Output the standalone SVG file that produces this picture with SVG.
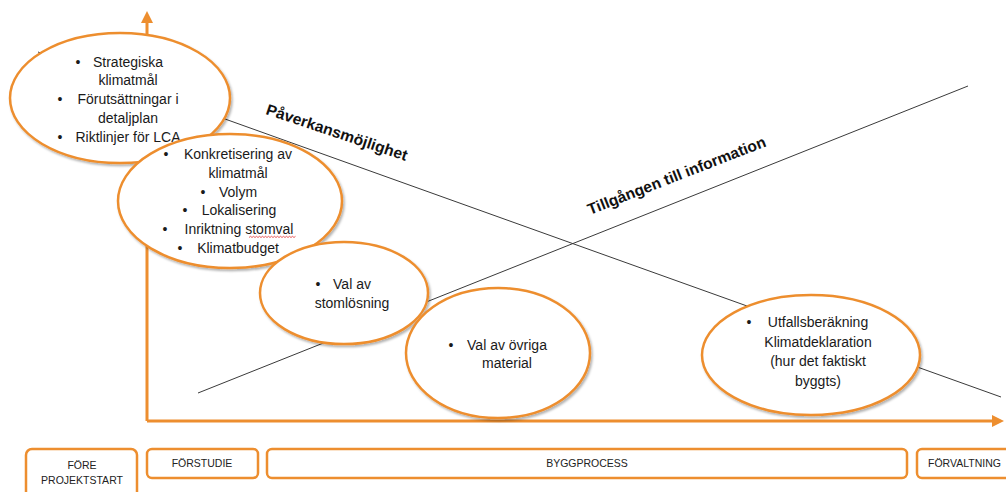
<svg xmlns="http://www.w3.org/2000/svg" width="1006" height="492" viewBox="0 0 1006 492">
<style>
.ax{stroke:#ED8E2F;stroke-width:3;fill:none}
.ln{stroke:#3a3a3a;stroke-width:1;fill:none}
.el{fill:#fff;stroke:#ED8E2F;stroke-width:2.5;filter:url(#sh)}
.bx{fill:#fff;stroke:#ED8E2F;stroke-width:2.5}
.t{font-family:"Liberation Sans",Arial,sans-serif;font-size:14px;fill:#1a1a1a;text-anchor:middle}
.b{font-family:"Liberation Sans",Arial,sans-serif;font-size:14px;fill:#1a1a1a;text-anchor:middle}
.lb{font-family:"Liberation Sans",Arial,sans-serif;font-size:15.5px;font-weight:bold;fill:#111}
.s{font-family:"Liberation Sans",Arial,sans-serif;font-size:10.5px;fill:#222;text-anchor:middle}
</style>
<defs>
<filter id="sh" x="-10%" y="-10%" width="125%" height="130%">
<feDropShadow dx="1.5" dy="2" stdDeviation="1.2" flood-color="#000" flood-opacity="0.3"/>
</filter>
</defs>
<g id="connectors">
<path class="ax" d="M147,421 V20"/>
<polygon points="147,11 141,23 153,23" fill="#ED8E2F"/>
<path class="ax" d="M147,421 H994"/>
<polygon points="1004,421 992,415 992,427" fill="#ED8E2F"/>
<line class="ln" x1="38" y1="52" x2="1001" y2="397"/>
<line class="ln" x1="198" y1="393" x2="968" y2="86"/>
<text class="lb" x="265" y="114" transform="rotate(18.5 265 114)" textLength="148" lengthAdjust="spacingAndGlyphs">Påverkansmöjlighet</text>
<text class="lb" x="590" y="215" transform="rotate(-21.3 590 215)" textLength="190" lengthAdjust="spacingAndGlyphs">Tillgången till information</text>
</g>
<g id="e1">
<ellipse class="el" cx="120" cy="98" rx="110" ry="65"/>
<text class="b" x="78" y="67">•</text>
<text class="t" x="128" y="67">Strategiska</text>
<text class="t" x="128" y="85">klimatmål</text>
<text class="b" x="60" y="104">•</text>
<text class="t" x="128" y="104">Förutsättningar i</text>
<text class="t" x="128" y="123">detaljplan</text>
<text class="b" x="60" y="142">•</text>
<text class="t" x="128" y="142">Riktlinjer för LCA</text>
</g>
<g id="e2">
<ellipse class="el" cx="230" cy="201" rx="112" ry="67"/>
<text class="b" x="166" y="159">•</text>
<text class="t" x="238" y="159">Konkretisering av</text>
<text class="t" x="238" y="178">klimatmål</text>
<text class="b" x="203" y="197">•</text>
<text class="t" x="238" y="197">Volym</text>
<text class="b" x="185" y="215">•</text>
<text class="t" x="239" y="215">Lokalisering</text>
<text class="b" x="165" y="234">•</text>
<text class="t" x="239" y="234">Inriktning stomval</text>
<path d="M249,237.5 l1.5,-1.2 l1.5,1.2 l1.5,-1.2 l1.5,1.2 l1.5,-1.2 l1.5,1.2 l1.5,-1.2 l1.5,1.2 l1.5,-1.2 l1.5,1.2 l1.5,-1.2 l1.5,1.2 l1.5,-1.2 l1.5,1.2 l1.5,-1.2 l1.5,1.2 l1.5,-1.2 l1.5,1.2 l1.5,-1.2 l1.5,1.2 l1.5,-1.2 l1.5,1.2 l1.5,-1.2 l1.5,1.2 l1.5,-1.2 l1.5,1.2 l1.5,-1.2 l1.5,1.2 l1.5,-1.2 l1.5,1.2 l1.5,-1.2" fill="none" stroke="#e03030" stroke-width="0.8"/>
<text class="b" x="180" y="253">•</text>
<text class="t" x="238" y="253">Klimatbudget</text>
</g>
<g id="e3">
<ellipse class="el" cx="344" cy="293" rx="84" ry="51"/>
<text class="b" x="318" y="289">•</text>
<text class="t" x="352" y="289">Val av</text>
<text class="t" x="352" y="308">stomlösning</text>
</g>
<g id="e4">
<ellipse class="el" cx="498" cy="353" rx="92" ry="65"/>
<text class="b" x="451" y="350">•</text>
<text class="t" x="507" y="350">Val av övriga</text>
<text class="t" x="507" y="368">material</text>
</g>
<g id="e5">
<ellipse class="el" cx="811" cy="355" rx="109" ry="60"/>
<text class="b" x="749" y="327">•</text>
<text class="t" x="818" y="327">Utfallsberäkning</text>
<text class="t" x="818" y="347">Klimatdeklaration</text>
<text class="t" x="818" y="366">(hur det faktiskt</text>
<text class="t" x="818" y="386">byggts)</text>
</g>
<g id="fore">
<rect class="bx" x="26" y="449" width="111" height="60" rx="6"/>
<text class="s" x="82" y="469">FÖRE</text>
<text class="s" x="82" y="484">PROJEKTSTART</text>
</g>
<g id="forstudie">
<rect class="bx" x="147" y="449" width="111" height="29" rx="5"/>
<text class="s" x="202" y="467">FÖRSTUDIE</text>
</g>
<g id="byggprocess">
<rect class="bx" x="267" y="449" width="640" height="29" rx="5"/>
<text class="s" x="587" y="467">BYGGPROCESS</text>
</g>
<g id="forvaltning">
<rect class="bx" x="917" y="449" width="110" height="29" rx="5"/>
<text class="s" x="928" y="467" style="text-anchor:start">FÖRVALTNING</text>
</g>
</svg>
